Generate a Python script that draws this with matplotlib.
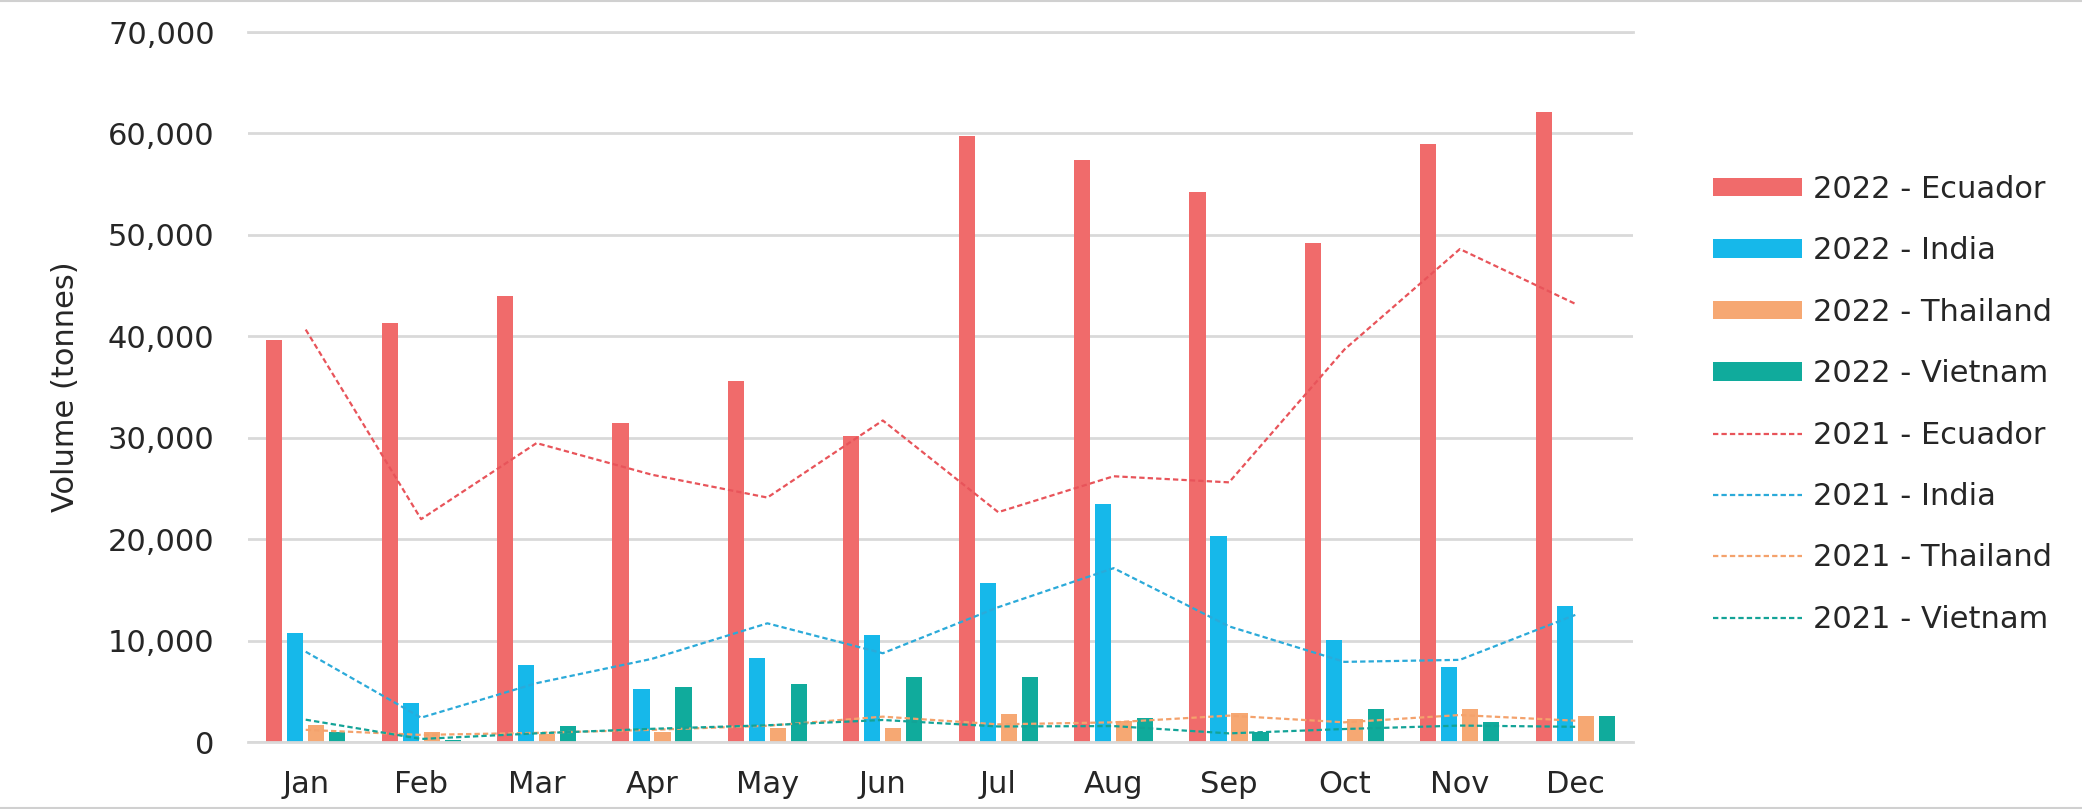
# importaciones para datos y graficos
import numpy as np
import matplotlib.pyplot as plt
from matplotlib.lines import Line2D
from matplotlib.ticker import FuncFormatter

# datos (toneladas)
meses = ['Jan', 'Feb', 'Mar', 'Apr', 'May', 'Jun', 'Jul', 'Aug', 'Sep', 'Oct', 'Nov', 'Dec']
ecuador_2022 = [39600, 41300, 44000, 31500, 35600, 30200, 59700, 57400, 54200, 49200, 59000, 62100]
india_2022 = [10700, 3800, 7550, 5260, 8310, 10560, 15660, 23450, 20330, 10050, 7350, 13450]
thailand_2022 = [1680, 950, 760, 990, 1400, 1400, 2730, 2100, 2850, 2300, 3250, 2520]
vietnam_2022 = [1020, 200, 1610, 5460, 5700, 6420, 6420, 2400, 950, 3250, 1950, 2520]
ecuador_2021 = [40660, 21970, 29470, 26350, 24100, 31700, 22660, 26200, 25600, 38700, 48600, 43200]
india_2021 = [8900, 2400, 5800, 8200, 11700, 8750, 13290, 17140, 11400, 7900, 8100, 12530]
thailand_2021 = [1200, 700, 900, 1200, 1600, 2500, 1740, 1940, 2600, 1940, 2660, 2100]
vietnam_2021 = [2200, 300, 850, 1300, 1650, 2170, 1530, 1570, 850, 1280, 1620, 1500]
paises = ['Ecuador', 'India', 'Thailand', 'Vietnam']

# colores
c_barras = ['#F06B6B', '#16B8EA', '#F6A873', '#10AB9C']
c_lineas = ['#E8545A', '#2BAAD9', '#F4A26C', '#13A397']
gris = '#D9D9D9'
texto = '#262626'

plt.rcParams['font.family'] = 'DejaVu Sans'

fig = plt.figure(figsize=(20.82, 8.09), dpi=100)
ax = fig.add_axes([248 / 2082, 1 - 742 / 809, 1385 / 2082, 710 / 809])

x = np.arange(len(meses))
ancho = 0.14
paso = 0.182

# barras 2022
handles = []
barras = [ecuador_2022, india_2022, thailand_2022, vietnam_2022]
for i, valores in enumerate(barras):
    b = ax.bar(x + (i - 1.5) * paso, valores, ancho, color=c_barras[i],
               label=f'2022 - {paises[i]}', zorder=2)
    handles.append(b)

# lineas 2021
lineas = [ecuador_2021, india_2021, thailand_2021, vietnam_2021]
for i, valores in enumerate(lineas):
    l, = ax.plot(x, valores, color=c_lineas[i], lw=1.6, linestyle=(0, (2.4, 1.4)),
                 label=f'2021 - {paises[i]}', zorder=3)
    handles.append(l)

# ejes
ax.set_xlim(-0.5, 11.5)
ax.set_ylim(0, 70000)
ax.set_yticks(range(0, 70001, 10000))
ax.yaxis.set_major_formatter(FuncFormatter(lambda v, p: f'{int(v):,}'))
ax.set_xticks(x)
ax.set_xticklabels(meses)
ax.grid(axis='y', color=gris, lw=2, zorder=0)
ax.set_axisbelow(True)
for lado in ['left', 'right']:
    ax.spines[lado].set_visible(False)
for lado in ['top', 'bottom']:
    ax.spines[lado].set_color(gris)
    ax.spines[lado].set_linewidth(2)
ax.tick_params(axis='both', length=0, labelsize=22, labelcolor=texto)
ax.tick_params(axis='y', pad=24)
ax.tick_params(axis='x', pad=20)

fig.text(66 / 2082, 1 - 387 / 809, 'Volume (tonnes)', rotation=90, ha='center', va='center',
         fontsize=22, color=texto)

# leyenda (barras primero)
leg = fig.legend(handles=handles, labels=[h.get_label() for h in handles],
                 loc='upper left', bbox_to_anchor=(1713 / 2082, 1 - 175 / 809),
                 frameon=False, fontsize=22, handlelength=2.9, handleheight=0.55,
                 handletextpad=0.36, labelspacing=1.06, borderpad=0, borderaxespad=0)
for t in leg.get_texts():
    t.set_color(texto)

# bordes del grafico
fig.add_artist(Line2D([0, 1], [0.999, 0.999], color='#D0D0D0', lw=1.5, transform=fig.transFigure))
fig.add_artist(Line2D([0, 1], [0.001, 0.001], color='#D0D0D0', lw=1.5, transform=fig.transFigure))

fig.savefig('out.png', dpi=100)
